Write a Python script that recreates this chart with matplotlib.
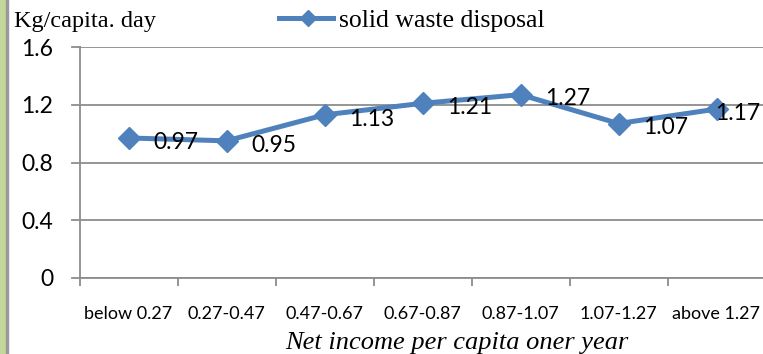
import matplotlib.pyplot as plt
import matplotlib.patches as mpatches
from matplotlib.lines import Line2D

# income groups and disposal per capita
categories = ['below 0.27', '0.27-0.47', '0.47-0.67', '0.67-0.87',
              '0.87-1.07', '1.07-1.27', 'above 1.27']
waste = [0.97, 0.95, 1.13, 1.21, 1.27, 1.07, 1.17]
yticks = [0, 0.4, 0.8, 1.2, 1.6]

blue = '#4F81BD'
grid_col = '#8C8C8C'
sans = 'Lato'
serif = 'Liberation Serif'

fig = plt.figure(figsize=(7.63, 3.54), dpi=100)
ax = fig.add_axes([79.5 / 763, 1 - 278 / 354, 686 / 763, 231 / 354])

x = list(range(len(categories)))
ax.plot(x, waste, color=blue, lw=3.6, marker='D', markersize=11.5,
        markeredgecolor=blue, zorder=3, clip_on=False)

for i, v in enumerate(waste):
    dx = 18 if i < len(waste) - 1 else -1
    ax.annotate(f'{v:.2f}', (i, v), xytext=(dx, -3), textcoords='offset points',
                ha='left', va='center', fontsize=16.5, family=sans, zorder=4)

ax.set_xlim(-0.5, len(categories) - 0.5)
ax.set_ylim(0, 1.6)
ax.set_yticks(yticks)
ax.set_yticklabels(['0', '0.4', '0.8', '1.2', '1.6'], fontsize=16.5, family=sans)
ax.yaxis.grid(True, color=grid_col, lw=1.3)
ax.set_axisbelow(True)
ax.tick_params(axis='y', length=0, pad=19)

# category ticks at the boundaries
ax.set_xticks([i - 0.5 for i in range(len(categories) + 1)])
ax.set_xticklabels([])
ax.set_xticks(x, minor=True)
ax.set_xticklabels(categories, minor=True, fontsize=13, family=sans)
ax.tick_params(axis='x', which='major', length=6, color=grid_col, width=1.3)
ax.tick_params(axis='x', which='minor', length=0, pad=20)

for s in ['top', 'right']:
    ax.spines[s].set_visible(False)
ax.spines['left'].set_color(grid_col)
ax.spines['left'].set_linewidth(1.3)
ax.spines['bottom'].set_color(grid_col)
ax.spines['bottom'].set_linewidth(1.3)

# short grid stubs left of the axis
for t in yticks:
    ax.plot([-0.58, -0.5], [t, t], color=grid_col, lw=1.3, clip_on=False)

fig.text(14 / 763, 1 - 27 / 354, 'Kg/capita. day', fontsize=17.5, family=serif,
         va='baseline', ha='left')

# legend drawn by hand
leg_y = 1 - 18 / 354
fig.add_artist(Line2D([279 / 763, 333 / 763], [leg_y, leg_y], color=blue, lw=3.6,
                      transform=fig.transFigure))
fig.add_artist(Line2D([308 / 763], [leg_y], color=blue, marker='D',
                      markersize=8.5, transform=fig.transFigure))
fig.text(339 / 763, 1 - 27 / 354, 'solid waste disposal', fontsize=18.5,
         family=serif, va='baseline', ha='left')

fig.text(457 / 763, 1 - 349 / 354, 'Net income per capita oner year',
         fontsize=19, family=serif, style='italic', va='baseline', ha='center')

# left border strip
fig.add_artist(mpatches.Rectangle((0, 0), 6 / 763, 1, color='#C3D69B',
                                  transform=fig.transFigure))
fig.add_artist(mpatches.Rectangle((6 / 763, 0), 2 / 763, 1, color='#999999',
                                  transform=fig.transFigure))

fig.savefig('out.png', dpi=100)
